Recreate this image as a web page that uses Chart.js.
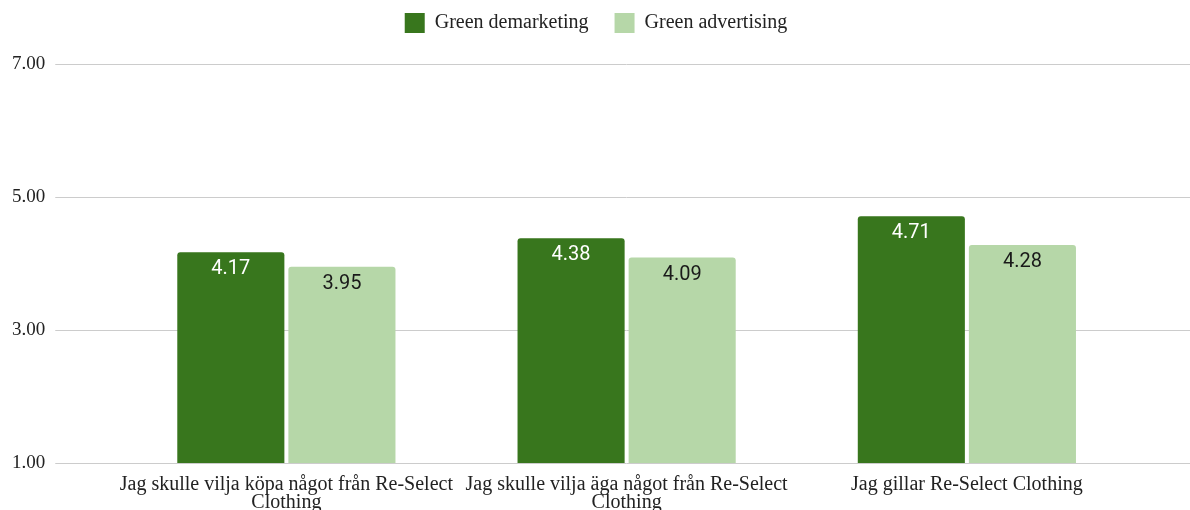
<!DOCTYPE html>
<html>
<head>
<meta charset="utf-8">
<script src="https://cdn.jsdelivr.net/npm/chart.js@4"></script>
<style>
  html, body { margin: 0; padding: 0; background: #fff; }
  #wrap { width: 1190px; height: 510px; }
</style>
</head>
<body>
<div id="wrap"><canvas id="chart"></canvas></div>
<script>
const categories = [
    ["Jag skulle vilja köpa något från Re-Select", "Clothing"],
    ["Jag skulle vilja äga något från Re-Select", "Clothing"],
    ["Jag gillar Re-Select Clothing"]
];
const seriesNames = ["Green demarketing", "Green advertising"];
const demarketing = [4.17, 4.38, 4.71];
const advertising = [3.95, 4.09, 4.28];
const yTicks = [1, 3, 5, 7];

const darkGreen = "#38761d";
const lightGreen = "#b6d7a8";
const gridColor = "#cccccc";
const serif = "'Liberation Serif', 'Times New Roman', serif";

// value labels inside the top of each bar
const barLabels = {
    id: "barLabels",
    afterDatasetsDraw(chart) {
        const ctx = chart.ctx;
        ctx.save();
        ctx.font = "20px Roboto, sans-serif";
        ctx.textAlign = "center";
        ctx.textBaseline = "middle";
        chart.data.datasets.forEach((ds, i) => {
            const meta = chart.getDatasetMeta(i);
            ctx.fillStyle = i === 0 ? "#ffffff" : "#1a1a1a";
            meta.data.forEach((bar, j) => {
                ctx.fillText(ds.data[j].toFixed(2), bar.x, bar.y + 17);
            });
        });
        ctx.restore();
    }
};

// extra room under the legend
const legendGap = {
    id: "legendGap",
    beforeInit(chart) {
        const fit = chart.legend.fit;
        chart.legend.fit = function () {
            fit.bind(chart.legend)();
            this.height += 21;
        };
    }
};

const barStyle = {
    categoryPercentage: 0.653,
    barPercentage: 0.964,
    borderRadius: { topLeft: 3, topRight: 3, bottomLeft: 0, bottomRight: 0 },
    borderSkipped: "start"
};

new Chart(document.getElementById("chart"), {
    type: "bar",
    data: {
        labels: categories,
        datasets: [
            Object.assign({ label: seriesNames[0], data: demarketing, backgroundColor: darkGreen }, barStyle),
            Object.assign({ label: seriesNames[1], data: advertising, backgroundColor: lightGreen }, barStyle)
        ]
    },
    options: {
        responsive: true,
        maintainAspectRatio: false,
        animation: false,
        layout: { padding: { top: -13, left: 2, right: 0, bottom: -7 } },
        plugins: {
            legend: {
                position: "top",
                labels: {
                    boxWidth: 20,
                    boxHeight: 20,
                    padding: 26,
                    color: "#222",
                    font: { family: serif, size: 20 }
                }
            },
            tooltip: { enabled: false }
        },
        scales: {
            x: {
                grid: { display: false },
                border: { display: false },
                ticks: {
                    color: "#222",
                    maxRotation: 0,
                    autoSkip: false,
                    padding: 5,
                    font: { family: serif, size: 20, lineHeight: 0.9 }
                }
            },
            y: {
                min: 1,
                max: 7,
                afterBuildTicks: (axis) => { axis.ticks = yTicks.map(v => ({ value: v })); },
                border: { display: false },
                grid: { color: gridColor, tickLength: 61, tickColor: gridColor },
                ticks: {
                    color: "#222",
                    padding: 10,
                    font: { family: serif, size: 19 },
                    callback: (v) => Number(v).toFixed(2)
                }
            },
            y2: {
                position: "right",
                display: true,
                min: 1,
                max: 7,
                afterBuildTicks: (axis) => { axis.ticks = yTicks.map(v => ({ value: v })); },
                border: { display: false },
                grid: { drawOnChartArea: false, tickLength: 53, color: gridColor },
                ticks: { display: false }
            }
        }
    },
    plugins: [barLabels, legendGap]
});
</script>
</body>
</html>
